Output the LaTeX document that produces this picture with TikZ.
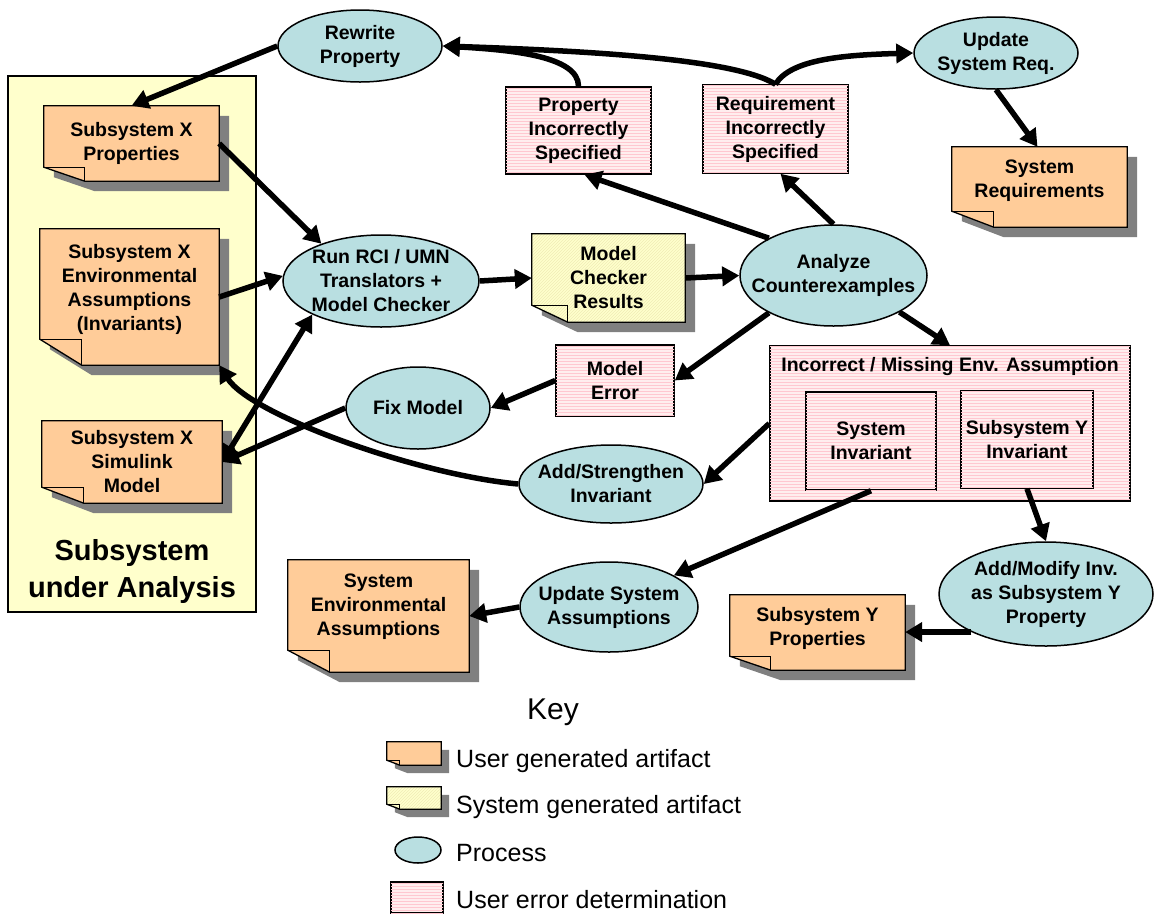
\documentclass[tikz,border=0pt]{standalone}
\usepackage{fontspec}
\setmainfont{Liberation Sans}
\usetikzlibrary{shapes.geometric,arrows.meta,calc,patterns}

\pgfdeclarelayer{backdrop}
\pgfdeclarelayer{shapes}
\pgfsetlayers{backdrop,shapes,main}

\definecolor{userfill}{RGB}{255,204,153}
\definecolor{sysfill}{RGB}{255,255,204}
\definecolor{syshatch}{RGB}{240,236,182}
\definecolor{procfill}{RGB}{185,223,225}
\definecolor{errfill}{RGB}{255,238,238}
\definecolor{errline}{RGB}{255,200,208}
\definecolor{shadowgray}{RGB}{128,128,128}

% Document shape with folded bottom-left corner and drop shadow,
% drawn behind the node that carries its text.
% [#1] shadow offset, #2 node, #3 fill options, #4 fold width, #5 fold height
\newcommand\artifactshape[5][10]{%
  \begin{pgfonlayer}{shapes}
    \path (#2.north west) coordinate (an-nw) (#2.south east) coordinate (an-se);
    \fill[shadowgray] ($(an-nw)+(#1,#1)$) -| ($(an-se)+(#1,#1)$)
      -- ($(an-nw|-an-se)+(#4+#1,#1)$) -- ($(an-nw|-an-se)+(#1,#1-#5)$) -- cycle;
    \path[#3] (an-nw) -| (an-se) -- ($(an-nw|-an-se)+(#4,0)$)
      -- ($(an-nw|-an-se)+(0,-#5)$) -- cycle;
    \draw[line width=1.3pt, line join=miter] (an-nw) -| (an-se) -- ($(an-nw|-an-se)+(#4,0)$)
      -- ($(an-nw|-an-se)+(0,-#5)$) -- cycle;
    \draw[line width=1.3pt] ($(an-nw|-an-se)+(0,-#5)$) -- ++(#4,0) -- ++(0,#5);
  \end{pgfonlayer}}

\begin{document}
\begin{tikzpicture}[x=1pt,y=-1pt,
  lbl/.style={font=\fontsize{19.5}{24}\selectfont\bfseries, align=center, inner sep=0pt},
  artifact/.style={lbl},
  process/.style={lbl, ellipse, draw, line width=1.5pt, fill=procfill, inner sep=-60pt},
  errbox/.style={lbl, rectangle, draw, line width=1.5pt, fill=errfill,
    postaction={pattern=horizontal lines, pattern color=errline}},
  userart/.style={fill=userfill},
  sysart/.style={fill=sysfill, postaction={pattern=north east lines, pattern color=syshatch}},
  legend/.style={font=\fontsize{25}{30}\selectfont, inner sep=0pt, anchor=west},
  flow/.style={line width=5.5pt, -{Triangle[length=17pt,width=19pt]}},
  flowboth/.style={line width=5.5pt, {Triangle[length=17pt,width=19pt]}-{Triangle[length=17pt,width=19pt]}}
]
\begin{pgfonlayer}{backdrop}
  \fill[white] (0,0) rectangle (1154,914);
\end{pgfonlayer}
\useasboundingbox (0,0) rectangle (1154,914);

% Subsystem under analysis
\begin{pgfonlayer}{backdrop}
  \node[draw, line width=2pt, fill=sysfill, minimum width=248pt, minimum height=536pt,
        inner sep=0pt] (sua) at (132,344) {};
\end{pgfonlayer}
\node[font=\fontsize{29}{37}\selectfont\bfseries, align=center, inner sep=0pt]
  (suatitle) at (132,571) {Subsystem\\under Analysis};

% Artifacts
\node[artifact, minimum width=175pt, minimum height=75pt] (sxprop) at (131.5,143.5) {Subsystem X\\Properties};
\node[artifact, minimum width=179pt, minimum height=136pt, text depth=20pt] (sxenv) at (129.5,297)
  {Subsystem X\\Environmental\\Assumptions\\(Invariants)};
\node[artifact, minimum width=180pt, minimum height=82pt] (sxsim) at (132,462) {Subsystem X\\Simulink\\Model};
\node[artifact, minimum width=181pt, minimum height=112pt, text depth=22pt] (sysenv) at (378.5,616)
  {System\\Environmental\\Assumptions};
\node[artifact, minimum width=175pt, minimum height=75pt, text depth=12pt] (syprop) at (817.5,632.5)
  {Subsystem Y\\Properties};
\node[artifact, minimum width=175pt, minimum height=80pt, text depth=16pt] (sysreq) at (1039.5,187)
  {System\\Requirements};
\node[artifact, minimum width=153pt, minimum height=88pt] (mcres) at (608.5,278) {Model\\Checker\\Results};

\artifactshape{sxprop}{userart}{41}{14}
\artifactshape{sxenv}{userart}{42}{26}
\artifactshape{sxsim}{userart}{42}{16}
\artifactshape{sysenv}{userart}{42}{22}
\artifactshape{syprop}{userart}{41}{14}
\artifactshape{sysreq}{userart}{42}{16}
\artifactshape{mcres}{sysart}{36}{17}

% User error determinations
\node[errbox, minimum width=145pt, minimum height=87pt] (pis) at (578.5,130.5) {Property\\Incorrectly\\Specified};
\node[errbox, minimum width=145pt, minimum height=88pt] (rqs) at (775.5,129) {Requirement\\Incorrectly\\Specified};
\node[errbox, minimum width=118pt, minimum height=71pt] (merr) at (615,380.5) {Model\\Error};
\node[errbox, minimum width=360pt, minimum height=155pt] (envbox) at (950,423.5) {};
\node[lbl, anchor=north] (envtitle) at ([yshift=-12pt]envbox.north) {Incorrect / Missing Env. Assumption};
\node[errbox, minimum width=130pt, minimum height=98pt] (sinv) at (871,441) {System\\Invariant};
\node[errbox, minimum width=132pt, minimum height=97pt] (syinv) at (1027,439.5) {Subsystem Y\\Invariant};

% Processes
\node[process, minimum width=164pt, minimum height=72pt] (rw) at (360,46) {Rewrite\\Property};
\node[process, minimum width=164pt, minimum height=72pt] (usr) at (996,53) {Update\\System Req.};
\node[process, minimum width=196pt, minimum height=92pt] (rci) at (381,281) {Run RCI / UMN\\Translators +\\Model Checker};
\node[process, minimum width=187pt, minimum height=101pt] (ana) at (833.5,275.5) {Analyze\\Counterexamples};
\node[process, minimum width=144pt, minimum height=82pt] (fix) at (418,408) {Fix Model};
\node[process, minimum width=184pt, minimum height=78pt] (ast) at (611,484) {Add/Strengthen\\Invariant};
\node[process, minimum width=178pt, minimum height=90pt] (usa) at (609,607) {Update System\\Assumptions};
\node[process, minimum width=214pt, minimum height=104pt] (amod) at (1046,594) {Add/Modify Inv.\\as Subsystem Y\\Property};

% Flow
\draw[flow] (rw.west) -- (sxprop.north);
\draw[flow] (pis.north) .. controls +(0,-30) and +(70,4) .. (rw.east);
\draw[flow] (rqs.north) .. controls +(-40,-25) and +(150,5) .. (rw.east);
\draw[flow] (rqs.north) .. controls +(15,-25) and +(-70,2) .. (usr.west);
\draw[flow] (usr.south) -- ([xshift=-2pt]sysreq.north);
\draw[flow] (sxprop.east) -- (rci.148);
\draw[flow] (sxenv.east) -- (rci.177);
\draw[flowboth] (sxsim.east) -- (rci.206);
\draw[flow] (rci.east) -- (mcres.west);
\draw[flow] (mcres.east) -- (ana.west);
\draw[flow] (ana.150) -- ([xshift=6pt]pis.south);
\draw[flow] (ana.north) -- ([xshift=5pt]rqs.south);
\draw[flow] (ana.210) -- (merr.east);
\draw[flow] (ana.331) -- (envbox.north);
\draw[flow] (merr.west) -- (fix.east);
\draw[flow] (fix.west) -- (sxsim.east);
\draw[flow] (envbox.west) -- (ast.east);
\draw[flow] (ast.west) .. controls +(-100,-9) and +(32,50) .. (sxenv.south east);
\draw[flow] (sinv.south) -- (usa.26);
\draw[flow] (usa.west) -- (sysenv.east);
\draw[flow] (syinv.south) -- (amod.north);
\draw[flow] (amod.207) -- (amod.207 -| syprop.east);

% Key
\node[font=\fontsize{30}{36}\selectfont, inner sep=0pt] (keytitle) at (553,712) {Key};
\node[minimum width=54pt, minimum height=23pt, inner sep=0pt] (keyuser) at (414,753.5) {};
\node[minimum width=54pt, minimum height=22pt, inner sep=0pt] (keysys) at (414,798) {};
\artifactshape[8]{keyuser}{userart}{13}{5}
\artifactshape[8]{keysys}{sysart}{13}{5}
\node[process, minimum width=46pt, minimum height=26pt] (keyproc) at (418,850) {};
\node[errbox, minimum width=52pt, minimum height=31pt] (keyerr) at (417,897.5) {};
\node[legend] (keyusertext) at (456,761) {User generated artifact};
\node[legend] (keysystext) at (456,807) {System generated artifact};
\node[legend] (keyproctext) at (456,853) {Process};
\node[legend] (keyerrtext) at (456,900) {User error determination};
\end{tikzpicture}
\end{document}
